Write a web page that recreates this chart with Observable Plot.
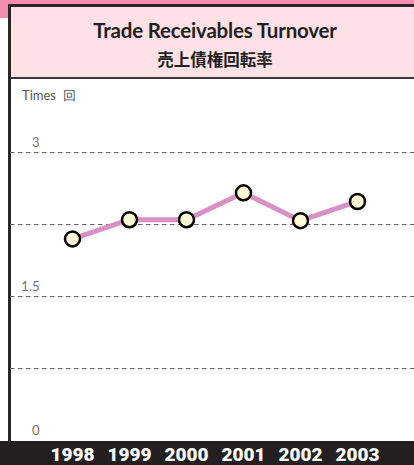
<!DOCTYPE html>
<html><head><meta charset="utf-8">
<script src="https://cdn.jsdelivr.net/npm/d3@7"></script>
<script src="https://cdn.jsdelivr.net/npm/@observablehq/plot@0.6"></script>
<style>
html,body{margin:0;padding:0;background:#fff;}
#wrap{position:relative;width:414px;height:465px;overflow:hidden;background:#fff;}
.pink1{position:absolute;left:0;top:0;width:414px;height:4px;background:#f28dab;}
.pink2{position:absolute;left:0;top:0;width:8px;height:18px;background:#f28dab;}
.box{position:absolute;left:8px;top:4px;width:420px;height:440px;border-left:3px solid #2b2526;border-top:3px solid #2b2526;box-sizing:border-box;}
.head{position:absolute;left:11px;top:7px;width:410px;height:70px;background:#fde1e7;border-bottom:2px solid #3d3a3b;}
.title{position:absolute;left:11px;width:408px;text-align:center;color:#231f20;}
.t1{top:18px;font:700 20.5px Lato, sans-serif;letter-spacing:-0.2px;}
.t2{top:47px;font:700 16.5px "Noto Sans CJK JP", sans-serif;}
.unit{position:absolute;left:22px;top:87px;font:400 13px Lato, sans-serif;color:#555;}
.band{position:absolute;left:0;top:441px;width:414px;height:24px;background:#231f20;}
#chart{position:absolute;left:0;top:80px;}
</style></head>
<body><div id="wrap">
<div class="pink1"></div><div class="pink2"></div>
<div class="box"></div>
<div class="head"></div>
<div class="title t1">Trade Receivables Turnover</div>
<div class="title t2">売上債権回転率</div>
<div class="unit">Times&nbsp;&nbsp;回</div>
<div class="band"></div>
<div id="chart"></div>
</div>
<script>
const years = ["1998","1999","2000","2001","2002","2003"];
const turnover = [2.10, 2.30, 2.30, 2.58, 2.29, 2.49];
const gridValues = [0.75, 1.5, 2.25, 3];
const tickValues = [0, 1.5, 3];
const tickLabels = ["0", "1.5", "3"];

const data = years.map((y, i) => ({year: y, value: turnover[i]}));
const ticks = tickValues.map((v, i) => ({v, label: tickLabels[i]}));

const chart = Plot.plot({
  width: 414,
  height: 385,
  marginTop: 72,
  marginBottom: 25,
  marginLeft: 10,
  marginRight: 0,
  style: {background: "transparent", overflow: "visible"},
  x: {type: "point", domain: years, insetLeft: 60, insetRight: 55, padding: 0},
  y: {domain: [0, 3]},
  marks: [
    Plot.ruleY(gridValues, {stroke: "#666", strokeWidth: 1.2, strokeDasharray: "4.5,3.5"}),
    Plot.text(ticks, {y: "v", text: "label", frameAnchor: "left", dx: 29, dy: -10, textAnchor: "end", fill: "#777", fontSize: 13, fontFamily: "Lato, sans-serif"}),
    Plot.line(data, {x: "year", y: "value", stroke: "#d990c4", strokeWidth: 5}),
    Plot.dot(data, {x: "year", y: "value", r: 7.5, fill: "#fffbd6", stroke: "#000", strokeWidth: 2.5}),
    Plot.axisX({tickSize: 0, tickPadding: 7, fill: "#fff", fontSize: 19, fontWeight: 900, fontFamily: "Roboto, sans-serif", label: null}),
    Plot.axisY({ticks: [], label: null})
  ]
});
document.getElementById("chart").appendChild(chart);
</script>
</body></html>
